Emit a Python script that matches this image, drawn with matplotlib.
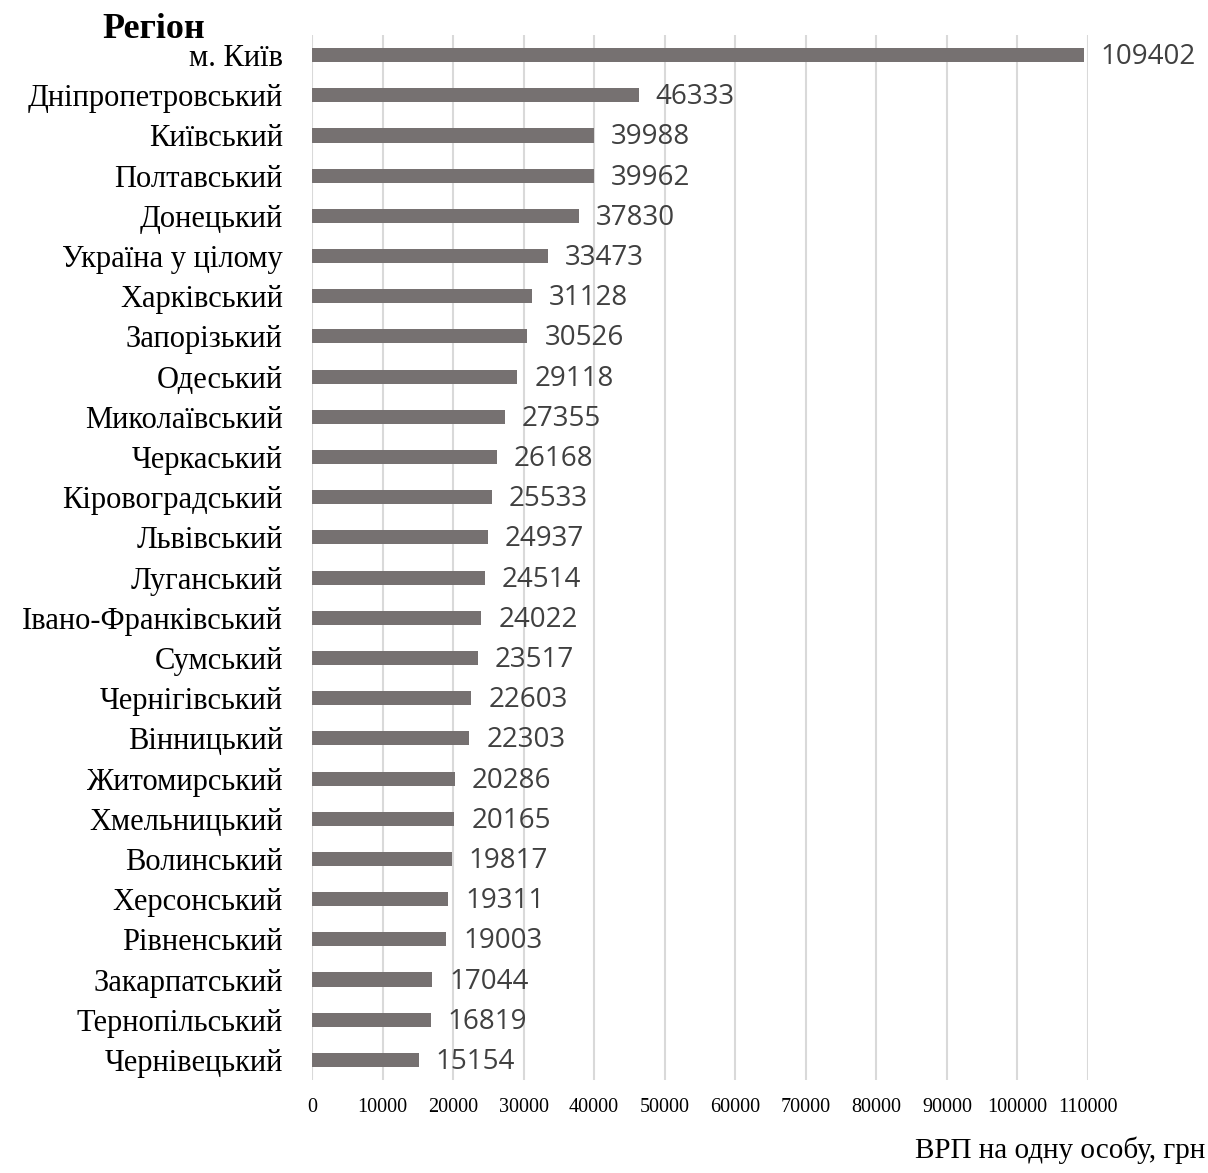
import matplotlib
matplotlib.use("Agg")
import matplotlib.pyplot as plt
import numpy as np

regions = ["м. Київ", "Дніпропетровський", "Київський", "Полтавський", "Донецький",
           "Україна у цілому", "Харківський", "Запорізький", "Одеський", "Миколаївський",
           "Черкаський", "Кіровоградський", "Львівський", "Луганський", "Івано-Франківський",
           "Сумський", "Чернігівський", "Вінницький", "Житомирський", "Хмельницький",
           "Волинський", "Херсонський", "Рівненський", "Закарпатський", "Тернопільський",
           "Чернівецький"]
values = [109402, 46333, 39988, 39962, 37830, 33473, 31128, 30526, 29118, 27355,
          26168, 25533, 24937, 24514, 24022, 23517, 22603, 22303, 20286, 20165,
          19817, 19311, 19003, 17044, 16819, 15154]
xticks = [0, 10000, 20000, 30000, 40000, 50000, 60000, 70000, 80000, 90000, 100000, 110000]
xlabel = "ВРП на одну особу, грн"
ylabel = "Регіон"

fig = plt.figure(figsize=(12.08, 11.73), dpi=100)
ax = fig.add_axes([312/1208, 1 - 1080/1173, (1088-312)/1208, (1080-35)/1173])

y = np.arange(len(regions))
ax.barh(y, values, height=0.35, color="#767171", zorder=3)
ax.set_ylim(len(regions) - 0.5, -0.5)
ax.set_xlim(0, 110000)

ax.set_xticks(xticks)
ax.set_xticklabels([str(t) for t in xticks], fontsize=14.5, family="Liberation Serif")
ax.tick_params(axis="x", length=0, pad=13)
ax.set_yticks(y)
ax.set_yticklabels(regions, fontsize=22, family="Liberation Serif")
ax.tick_params(axis="y", length=0, pad=21)

ax.grid(axis="x", color="#d9d9d9", linewidth=1.5, zorder=0)
for s in ax.spines.values():
    s.set_visible(False)

for yi, v in zip(y, values):
    ax.annotate(str(v), (v, yi), xytext=(17, -2), textcoords="offset pixels",
                va="center", ha="left", fontsize=20, family="Open Sans", color="#404040")

fig.text(205/1208, 1 - 29/1173, ylabel, fontsize=26, fontweight="bold",
         family="Liberation Serif", ha="right", va="center")
fig.text(1205/1208, 1 - 1150/1173, xlabel, fontsize=21, family="Liberation Serif",
         ha="right", va="center")

fig.savefig("out.png", dpi=100)
